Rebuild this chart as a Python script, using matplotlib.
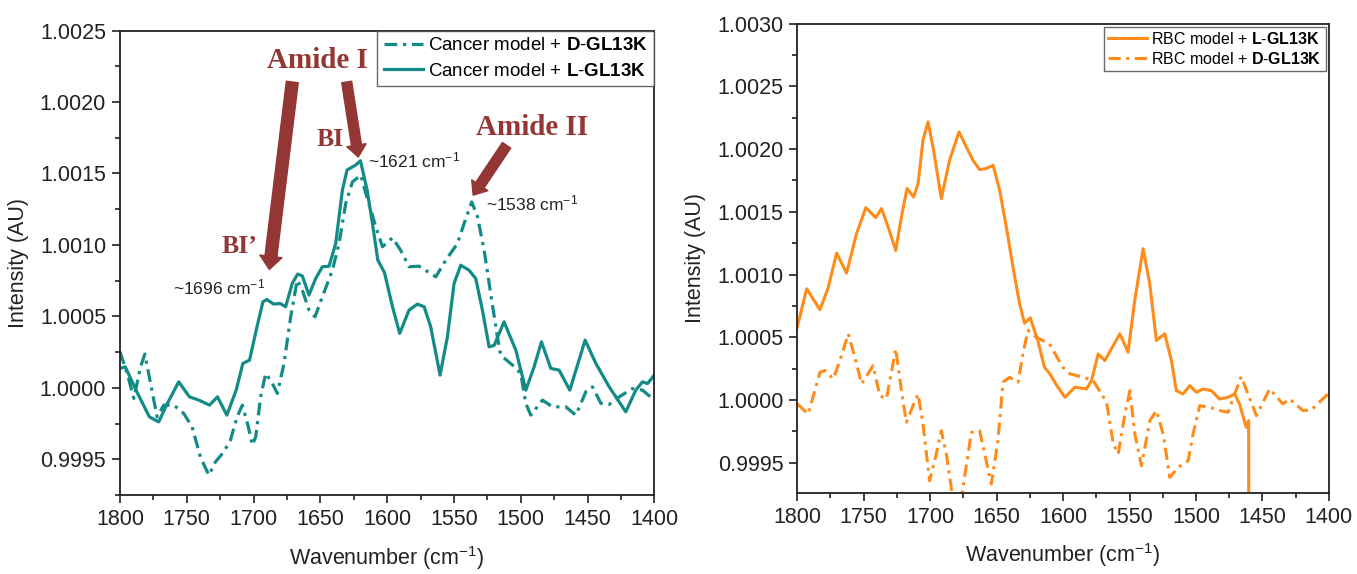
import matplotlib
matplotlib.use("Agg")
import matplotlib.pyplot as plt
from matplotlib.ticker import MultipleLocator, FormatStrFormatter

plt.rcParams["font.family"] = ["Liberation Sans", "DejaVu Sans"]
plt.rcParams["mathtext.fontset"] = "custom"
plt.rcParams["mathtext.rm"] = "Liberation Sans"
plt.rcParams["mathtext.it"] = "Liberation Sans:italic"
plt.rcParams["mathtext.bf"] = "Liberation Sans:bold"

# ── data: cancer model (left panel) ─────────────────────────────
cancer_L_x = [1800, 1796, 1788, 1778, 1771, 1764.5, 1756, 1748, 1741, 1733, 1727, 1720,
              1713, 1708, 1703, 1698, 1693, 1690, 1685, 1680, 1676, 1671, 1667, 1663.5,
              1658.5, 1653.5, 1648.5, 1643.5, 1638.5, 1633.5, 1630, 1623.5, 1620, 1615,
              1611, 1607, 1602, 1596, 1590.6, 1583.6, 1577.3, 1572.3, 1567.4, 1560.4,
              1554.9, 1549.9, 1544.9, 1538.7, 1533.7, 1528.7, 1523.7, 1519.9, 1512.5,
              1503.7, 1496.2, 1490, 1484.5, 1477.5, 1471.3, 1463.3, 1456.3, 1451.8,
              1443.8, 1433.8, 1421.4, 1413.9, 1408.9, 1405.1, 1400]
cancer_L_y = [1.000136, 1.000147, 0.999984, 0.999797, 0.999762, 0.999891, 1.000042, 0.999937,
              0.999914, 0.999879, 0.999937, 0.999809, 0.999984, 1.000171, 1.000194, 1.000404,
              1.000602, 1.000618, 1.000586, 1.000590, 1.000567, 1.000731, 1.000796, 1.000783,
              1.000649, 1.000765, 1.000847, 1.000851, 1.001010, 1.001384, 1.001524, 1.001559,
              1.001589, 1.001384, 1.001150, 1.000894, 1.000806, 1.000567, 1.000381, 1.000544,
              1.000586, 1.000567, 1.000427, 1.000089, 1.000357, 1.000731, 1.000858, 1.000823,
              1.000765, 1.000544, 1.000287, 1.000297, 1.000462, 1.000264, 0.999984, 1.000147,
              1.000322, 1.000136, 1.000124, 0.999984, 1.000196, 1.000334, 1.000171, 1.000007,
              0.999832, 0.999984, 1.000042, 1.000030, 1.000089]

cancer_D_x = [1800, 1794.6, 1789.6, 1784.6, 1781.4, 1777.1, 1772.2, 1767.2, 1759.7, 1752.3,
              1746, 1739.8, 1733.5, 1728.5, 1722.3, 1717.3, 1712.3, 1708.4, 1703.9, 1700.9,
              1698.4, 1694.7, 1690.9, 1685.9, 1682.2, 1677.2, 1672.2, 1667.3, 1663.5, 1658.5,
              1654, 1648.5, 1641, 1636, 1631, 1626, 1619.7, 1616, 1612.2, 1608.5, 1603.5,
              1596, 1589.9, 1583.6, 1576.1, 1563.6, 1556.1, 1547.4, 1542.4, 1536.7, 1532.4,
              1527.4, 1522.5, 1517.5, 1515, 1506.2, 1500, 1496.2, 1492.5, 1483.7, 1476.3,
              1466.3, 1458.8, 1451.3, 1446.3, 1440, 1433.8, 1426.3, 1416.3, 1408.9, 1400]
cancer_D_y = [1.000252, 1.000101, 0.999926, 1.000147, 1.000236, 1.000031, 0.999797, 0.999879,
              0.999879, 0.999821, 0.999727, 0.999517, 0.999389, 0.999482, 0.999552, 0.999634,
              0.999797, 0.999879, 0.999727, 0.999599, 0.999657, 0.999937, 1.000101, 1.000031,
              0.999961, 1.000171, 1.000497, 1.000754, 1.000684, 1.000544, 1.000497, 1.000637,
              1.000823, 1.001010, 1.001290, 1.001441, 1.001488, 1.001361, 1.001243, 1.001126,
              1.000987, 1.001050, 1.000963, 1.000847, 1.000851, 1.000777, 1.000893, 1.001010,
              1.001150, 1.001301, 1.001198, 1.000963, 1.000660, 1.000357, 1.000229, 1.000159,
              1.000101, 0.999891, 0.999809, 0.999914, 0.999867, 0.999867, 0.999809, 0.999972,
              1.000007, 0.999891, 0.999884, 0.999937, 0.999995, 0.999984, 0.999914]

# ── data: RBC model (right panel) ───────────────────────────────
rbc_L_x = [1800, 1792.9, 1782.9, 1776.6, 1770.4, 1762.9, 1755.4, 1748.4, 1740.9, 1736.6,
           1731.6, 1725.9, 1721.6, 1717.4, 1712.4, 1709.1, 1705.4, 1701.6, 1697.4, 1691.6,
           1685.4, 1678.3, 1672.8, 1667.8, 1662.8, 1657.8, 1652.7, 1647.7, 1642.7, 1637.7,
           1632.7, 1629, 1624.7, 1619, 1614, 1609.9, 1605, 1598.6, 1591.1, 1582.3, 1578.6,
           1573.6, 1568.6, 1557.3, 1551.1, 1546.1, 1539.8, 1534.8, 1529.8, 1523.5, 1518.5,
           1514.8, 1509.8, 1504.7, 1499.7, 1494.7, 1488.5, 1482.2, 1475.9, 1470.9, 1467.2,
           1462.2, 1460.4, 1460.3]
rbc_L_y = [1.000580, 1.000886, 1.000719, 1.000899, 1.001171, 1.001011, 1.001326, 1.001533,
           1.001454, 1.001526, 1.001379, 1.001192, 1.001459, 1.001685, 1.001618, 1.001725,
           1.002071, 1.002217, 1.001991, 1.001605, 1.001911, 1.002137, 1.002018, 1.001911,
           1.001837, 1.001845, 1.001871, 1.001672, 1.001379, 1.001059, 1.000767, 1.000612,
           1.000655, 1.000474, 1.000260, 1.000208, 1.000120, 1.000021, 1.000101, 1.000088,
           1.000154, 1.000367, 1.000314, 1.000527, 1.000380, 1.000793, 1.001206, 1.000926,
           1.000474, 1.000527, 1.000314, 1.000074, 1.000047, 1.000114, 1.000061, 1.000087,
           1.000074, 1.000007, 1.000021, 1.000047, 0.999967, 0.999781, 0.999835, 0.999000]

rbc_D_x = [1800, 1791.7, 1782.9, 1779.2, 1772.9, 1767.9, 1761.6, 1756.6, 1751.6, 1742.9,
           1737.9, 1732.9, 1725.9, 1721.6, 1717.9, 1712.9, 1709.1, 1705.4, 1700.4, 1695.4,
           1691.6, 1687.8, 1682.8, 1676.6, 1669, 1662.8, 1657.8, 1654, 1649, 1645.2, 1640.2,
           1633.9, 1630.2, 1626.4, 1620.2, 1610.2, 1600.2, 1594.9, 1584.8, 1577.3, 1567.3,
           1562.2, 1558.5, 1553.5, 1549.7, 1546, 1541, 1534.7, 1529.7, 1524.7, 1519.7,
           1513.5, 1505.9, 1502.2, 1497.2, 1489.6, 1482.1, 1475.9, 1470.9, 1465.9, 1460.9,
           1454.6, 1444.6, 1434.6, 1429.6, 1419.5, 1413.3, 1400.7]
rbc_D_y = [0.999968, 0.999888, 1.000220, 1.000234, 1.000168, 1.000314, 1.000527, 1.000340,
           1.000128, 1.000274, 1.000034, 1.000008, 1.000407, 1.000074, 0.999821, 0.999954,
           1.000047, 0.999808, 0.999355, 0.999569, 0.999755, 0.999569, 0.999200, 0.999210,
           0.999741, 0.999754, 0.999515, 0.999329, 0.999675, 1.000141, 1.000181, 1.000141,
           1.000367, 1.000554, 1.000500, 1.000447, 1.000260, 1.000208, 1.000181, 1.000154,
           0.999981, 0.999649, 0.999569, 0.999888, 1.000074, 0.999728, 0.999475, 0.999835,
           0.999915, 0.999728, 0.999382, 0.999462, 0.999515, 0.999728, 0.999954, 0.999941,
           0.999915, 0.999901, 1.000047, 1.000186, 1.000047, 0.999875, 1.000088, 0.999968,
           1.000008, 0.999915, 0.999920, 1.000047]

TEAL = "#138b87"
ORANGE = "#ff8c1a"
BROWN = "#943634"
DASHDOT = (0, (4, 1.8, 1, 1.8))


def style_axes(ax, ymin, ymax):
    ax.set_xlim(1800, 1400)
    ax.set_ylim(ymin, ymax)
    ax.xaxis.set_major_locator(MultipleLocator(50))
    ax.xaxis.set_minor_locator(MultipleLocator(25))
    ax.yaxis.set_major_locator(MultipleLocator(0.0005))
    ax.yaxis.set_minor_locator(MultipleLocator(0.00025))
    ax.yaxis.set_major_formatter(FormatStrFormatter("%.4f"))
    ax.tick_params(which="major", direction="out", length=6, width=1.2,
                   labelsize=15.5, pad=4, colors="#222222")
    ax.tick_params(which="minor", direction="out", length=3.5, width=1.2, colors="#222222")
    ax.tick_params(axis="both", labelcolor="#222222")
    for s in ax.spines.values():
        s.set_linewidth(1.3)
        s.set_color("#222222")
    ax.set_xlabel("Wavenumber (cm$^{-1}$)", fontsize=15.5, color="#222222", labelpad=10)
    ax.set_ylabel("Intensity (AU)", fontsize=15.5, color="#222222", labelpad=8)


fig = plt.figure(figsize=(13.57, 5.74), dpi=100)

# ── left: cancer model ──────────────────────────────────────────
ax1 = fig.add_axes([0.0884, 0.1376, 0.3938, 0.8092])
ax1.plot(cancer_D_x, cancer_D_y, color=TEAL, lw=2.3, linestyle=DASHDOT,
         label="Cancer model + $\\mathbf{D}$-$\\mathbf{GL13K}$")
ax1.plot(cancer_L_x, cancer_L_y, color=TEAL, lw=2.3,
         label="Cancer model + $\\mathbf{L}$-$\\mathbf{GL13K}$")
style_axes(ax1, 0.99925, 1.0025)
leg1 = ax1.legend(loc="upper right", fontsize=13.5, frameon=True, fancybox=False,
                  borderaxespad=0, handlelength=2.1, handletextpad=0.25,
                  labelspacing=0.45, borderpad=0.35)
leg1.get_frame().set_edgecolor("#444444")
leg1.get_frame().set_linewidth(1.0)

serif = ["Liberation Serif", "DejaVu Serif"]
ax1.text(1652.5, 1.002292, "Amide I", family=serif, fontweight="bold",
         fontsize=21, color=BROWN, ha="center", va="center")
ax1.text(1491.8, 1.001821, "Amide II", family=serif, fontweight="bold",
         fontsize=21, color=BROWN, ha="center", va="center")
ax1.text(1642.6, 1.001739, "BI", family=serif, fontweight="bold",
         fontsize=18.5, color=BROWN, ha="center", va="center")
ax1.text(1710.4, 1.000992, "BI\u2019", family=serif, fontweight="bold",
         fontsize=18.5, color=BROWN, ha="center", va="center")

arrows = [
    ((1671.0, 1.002140), (1688.2, 1.000828), 0.86, 1.6, 0.95),
    ((1630.3, 1.002140), (1621.6, 1.001615), 0.72, 1.4, 0.86),
    ((1510.6, 1.001697), (1535.6, 1.001348), 0.72, 1.4, 0.86),
]
for start, tip, tw, hw, hl in arrows:
    ax1.annotate("", xy=tip, xytext=start, xycoords="data",
                 arrowprops=dict(arrowstyle=f"simple,head_length={hl},head_width={hw},tail_width={tw}",
                                 color=BROWN, shrinkA=0, shrinkB=0, mutation_scale=10))

for x, y, s in [(1760.0, 1.000701, "~1696"), (1614.6, 1.001592, "~1621"),
                (1526.0, 1.001292, "~1538")]:
    ax1.text(x, y, s + " cm$^{-1}$", fontsize=12.5, color="#222222", ha="left", va="center")

# ── right: RBC model ────────────────────────────────────────────
ax2 = fig.add_axes([0.5875, 0.1416, 0.3918, 0.8171])
ax2.plot(rbc_L_x, rbc_L_y, color=ORANGE, lw=2.2,
         label="RBC model + $\\mathbf{L}$-$\\mathbf{GL13K}$")
ax2.plot(rbc_D_x, rbc_D_y, color=ORANGE, lw=2.2, linestyle=DASHDOT,
         label="RBC model + $\\mathbf{D}$-$\\mathbf{GL13K}$")
style_axes(ax2, 0.99926, 1.0030)
leg2 = ax2.legend(loc="upper right", fontsize=11.5, frameon=True, fancybox=False,
                  borderaxespad=0.2, handlelength=2.4, handletextpad=0.3,
                  labelspacing=0.25, borderpad=0.25)
leg2.get_frame().set_edgecolor("#444444")
leg2.get_frame().set_linewidth(1.0)

fig.savefig("out.png", dpi=100)
